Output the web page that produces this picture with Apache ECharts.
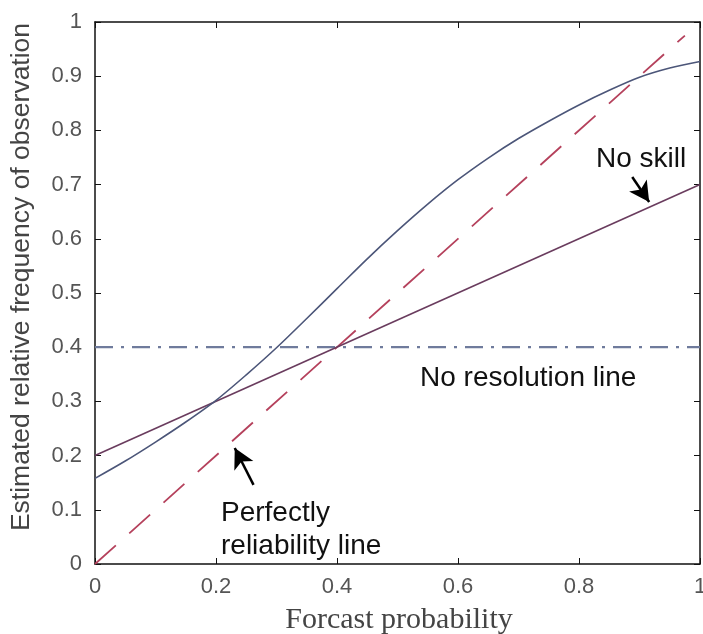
<!DOCTYPE html>
<html>
<head>
<meta charset="utf-8">
<script src="https://cdn.jsdelivr.net/npm/echarts@6/dist/echarts.min.js"></script>
<style>html,body{margin:0;padding:0;background:#fff;overflow:hidden;}#chart{width:703px;height:634px;}</style>
</head>
<body>
<div id="chart"></div>
<script>
// Reliability curve
var forecastProb = [0, 0.05, 0.1, 0.15, 0.2, 0.25, 0.3, 0.35, 0.4, 0.45, 0.5, 0.55, 0.6, 0.65, 0.7, 0.75, 0.8, 0.85, 0.9, 0.95, 1.0];
var observedFreq = [0.158, 0.19, 0.225, 0.262, 0.302, 0.349, 0.399, 0.453, 0.508, 0.563, 0.615, 0.664, 0.709, 0.749, 0.785, 0.817, 0.847, 0.874, 0.898, 0.915, 0.927];
// No skill line
var noSkillX = [0, 1];
var noSkillY = [0.2, 0.7];
// Perfect reliability line
var perfectX = [0, 0.975];
var perfectY = [0, 0.975];
// No resolution line
var noResX = [0, 1];
var noResY = [0.4, 0.4];
// Axis ticks
var xTicks = [0, 0.2, 0.4, 0.6, 0.8, 1];
var yTicks = [0, 0.1, 0.2, 0.3, 0.4, 0.5, 0.6, 0.7, 0.8, 0.9, 1];
// Arrow annotations (data coordinates: tail -> tip)
var noSkillArrow = [[0.888, 0.714], [0.916, 0.668]];
var perfectArrow = [[0.262, 0.146], [0.231, 0.214]];

function zip(a, b) { return a.map(function (v, i) { return [v, b[i]]; }); }

var chart = echarts.init(document.getElementById('chart'));
var sans = 'Liberation Sans';
var axisCommon = {
  type: 'value', min: 0, max: 1, interval: 0.1,
  splitLine: { show: false },
  axisLine: { show: true, onZero: false, lineStyle: { color: '#111', width: 1.5 } },
  axisTick: { show: true, inside: true, length: 6, lineStyle: { color: '#111', width: 1 } }
};
function fmt(v) { return String(Math.round(v * 10) / 10); }

chart.setOption({
  animation: false,
  backgroundColor: '#fff',
  grid: { left: 95, right: 3, top: 22, bottom: 70, containLabel: false, outerBoundsMode: 'none' },
  xAxis: [
    Object.assign({}, axisCommon, {
      interval: 0.2, position: 'bottom',
      axisLabel: { color: '#555', fontFamily: sans, fontSize: 22, margin: 12, formatter: fmt }
    }),
    Object.assign({}, axisCommon, {
      interval: 0.2, position: 'top', axisLabel: { show: false }
    })
  ],
  yAxis: [
    Object.assign({}, axisCommon, {
      position: 'left',
      axisLabel: { color: '#555', fontFamily: sans, fontSize: 22, margin: 13, formatter: fmt }
    }),
    Object.assign({}, axisCommon, {
      position: 'right', axisLabel: { show: false }
    })
  ],
  series: [
    {
      type: 'line', data: zip(noResX, noResY), showSymbol: false, symbol: 'none',
      lineStyle: { color: '#6f7b9c', width: 2.2, type: [18, 8, 3, 8] }
    },
    {
      type: 'line', data: zip(perfectX, perfectY), showSymbol: false, symbol: 'none',
      lineStyle: { color: '#b5415c', width: 1.8, type: [28, 18] }
    },
    {
      type: 'line', data: zip(noSkillX, noSkillY), showSymbol: false, symbol: 'none',
      lineStyle: { color: '#6a3c5e', width: 1.6 }
    },
    {
      type: 'line', data: zip(forecastProb, observedFreq), showSymbol: false, symbol: 'none', smooth: 0.3,
      lineStyle: { color: '#4c5679', width: 1.6 },
      markLine: {
        silent: true, animation: false,
        symbol: ['none', 'arrow'], symbolSize: [16, 20],
        label: { show: false },
        lineStyle: { color: '#000', width: 2.5, type: 'solid' },
        data: [
          [{ coord: noSkillArrow[0] }, { coord: noSkillArrow[1] }],
          [{ coord: perfectArrow[0] }, { coord: perfectArrow[1] }]
        ]
      }
    }
  ],
  graphic: [
    { type: 'text', left: 596, top: 145, style: { text: 'No skill', font: '28px "Liberation Sans"', fill: '#111' } },
    { type: 'text', left: 420, top: 364, style: { text: 'No resolution line', font: '28px "Liberation Sans"', fill: '#111' } },
    { type: 'text', left: 221, top: 497, style: { text: 'Perfectly\nreliability line', font: '28px "Liberation Sans"', fill: '#111', lineHeight: 33 } },
    { type: 'text', x: 22, y: 277, rotation: Math.PI / 2, style: { text: 'Estimated relative frequency of observation', font: '26.5px "Liberation Sans"', fill: '#444', align: 'center', verticalAlign: 'middle' } },
    { type: 'text', x: 399, y: 620, style: { text: 'Forcast probability', font: '30px "Liberation Serif"', fill: '#444', align: 'center', verticalAlign: 'middle' } }
  ]
});
</script>
</body>
</html>
